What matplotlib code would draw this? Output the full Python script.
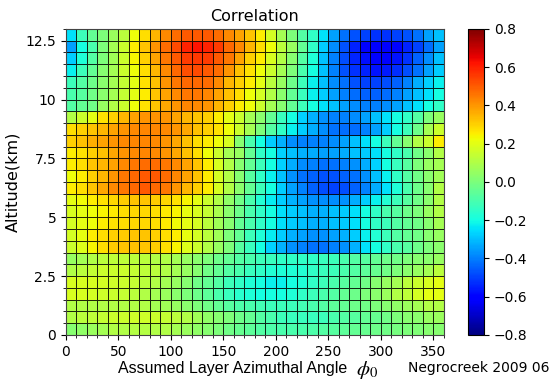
import matplotlib
matplotlib.use("Agg")
from matplotlib import pyplot as plt
import numpy as np

# cell edges
angle_edges = np.arange(0, 361, 10)        # 36 columns, degrees
alt_edges = np.arange(0, 13.01, 0.5)       # 26 rows, km

# correlation per cell, rows listed from top (12.5-13 km) down to (0-0.5 km)
corr_rows = [
    [-0.25, -0.12, -0.05, 0.00, 0.06, 0.12, 0.22, 0.28, 0.35, 0.42, 0.47, 0.50, 0.50, 0.50, 0.47, 0.42, 0.38, 0.32, 0.25, 0.17, 0.08, 0.00, -0.08, -0.15, -0.25, -0.35, -0.42, -0.47, -0.50, -0.52, -0.52, -0.50, -0.47, -0.42, -0.35, -0.30],
    [-0.35, -0.20, -0.10, 0.00, 0.08, 0.15, 0.25, 0.32, 0.40, 0.47, 0.53, 0.60, 0.62, 0.60, 0.55, 0.48, 0.42, 0.35, 0.28, 0.22, 0.12, 0.05, -0.05, -0.15, -0.28, -0.38, -0.47, -0.55, -0.60, -0.62, -0.62, -0.60, -0.55, -0.50, -0.43, -0.35],
    [-0.28, -0.18, -0.08, 0.00, 0.07, 0.15, 0.24, 0.30, 0.38, 0.45, 0.50, 0.55, 0.56, 0.55, 0.50, 0.45, 0.38, 0.30, 0.25, 0.18, 0.10, 0.02, -0.08, -0.18, -0.30, -0.40, -0.48, -0.54, -0.58, -0.60, -0.60, -0.57, -0.52, -0.45, -0.38, -0.30],
    [-0.22, -0.12, -0.05, 0.02, 0.08, 0.15, 0.22, 0.28, 0.35, 0.42, 0.48, 0.52, 0.53, 0.50, 0.47, 0.40, 0.33, 0.27, 0.22, 0.15, 0.08, 0.00, -0.10, -0.20, -0.30, -0.40, -0.47, -0.52, -0.55, -0.57, -0.56, -0.53, -0.48, -0.42, -0.35, -0.28],
    [-0.12, -0.08, -0.03, 0.03, 0.08, 0.14, 0.20, 0.27, 0.33, 0.40, 0.45, 0.48, 0.48, 0.47, 0.42, 0.35, 0.30, 0.25, 0.20, 0.12, 0.05, -0.03, -0.12, -0.22, -0.30, -0.38, -0.42, -0.47, -0.50, -0.50, -0.48, -0.45, -0.40, -0.33, -0.27, -0.22],
    [-0.10, -0.07, -0.02, 0.03, 0.08, 0.14, 0.20, 0.25, 0.32, 0.38, 0.42, 0.45, 0.45, 0.43, 0.38, 0.33, 0.28, 0.22, 0.17, 0.10, 0.03, -0.05, -0.13, -0.22, -0.28, -0.35, -0.40, -0.43, -0.45, -0.45, -0.43, -0.40, -0.35, -0.30, -0.25, -0.20],
    [-0.08, -0.05, -0.02, 0.05, 0.10, 0.15, 0.22, 0.27, 0.32, 0.37, 0.40, 0.43, 0.42, 0.40, 0.35, 0.30, 0.25, 0.22, 0.15, 0.08, 0.02, -0.05, -0.12, -0.20, -0.25, -0.30, -0.35, -0.38, -0.40, -0.40, -0.38, -0.35, -0.30, -0.25, -0.20, -0.15],
    [0.10, 0.15, 0.20, 0.27, 0.30, 0.35, 0.38, 0.40, 0.40, 0.40, 0.38, 0.35, 0.32, 0.30, 0.25, 0.20, 0.15, 0.08, 0.03, -0.05, -0.13, -0.20, -0.27, -0.32, -0.37, -0.40, -0.40, -0.38, -0.35, -0.30, -0.25, -0.20, -0.15, -0.08, 0.00, 0.05],
    [0.28, 0.30, 0.32, 0.35, 0.38, 0.40, 0.42, 0.43, 0.43, 0.42, 0.40, 0.37, 0.33, 0.30, 0.27, 0.22, 0.15, 0.08, 0.00, -0.08, -0.15, -0.22, -0.28, -0.33, -0.38, -0.42, -0.43, -0.43, -0.40, -0.35, -0.28, -0.20, -0.12, -0.03, 0.08, 0.15],
    [0.30, 0.33, 0.36, 0.38, 0.40, 0.42, 0.43, 0.43, 0.42, 0.40, 0.37, 0.33, 0.28, 0.25, 0.22, 0.18, 0.02, -0.10, -0.20, -0.28, -0.32, -0.38, -0.40, -0.40, -0.40, -0.38, -0.35, -0.30, -0.25, -0.20, -0.12, -0.05, 0.02, 0.10, 0.15, 0.25],
    [0.25, 0.27, 0.30, 0.33, 0.37, 0.40, 0.42, 0.43, 0.42, 0.40, 0.37, 0.33, 0.28, 0.22, 0.15, 0.08, 0.05, -0.05, -0.15, -0.20, -0.27, -0.30, -0.32, -0.33, -0.35, -0.35, -0.33, -0.30, -0.28, -0.25, -0.20, -0.15, -0.10, -0.02, 0.03, 0.10],
    [0.25, 0.28, 0.32, 0.35, 0.38, 0.42, 0.45, 0.47, 0.47, 0.45, 0.42, 0.38, 0.32, 0.25, 0.18, 0.10, 0.02, -0.05, -0.12, -0.20, -0.27, -0.33, -0.38, -0.40, -0.42, -0.42, -0.40, -0.37, -0.33, -0.27, -0.20, -0.13, -0.07, 0.00, 0.05, 0.08],
    [0.22, 0.25, 0.30, 0.35, 0.40, 0.45, 0.48, 0.50, 0.50, 0.47, 0.43, 0.38, 0.32, 0.25, 0.17, 0.10, 0.02, -0.07, -0.15, -0.22, -0.30, -0.37, -0.42, -0.45, -0.47, -0.47, -0.45, -0.42, -0.37, -0.30, -0.22, -0.15, -0.08, -0.02, 0.03, 0.07],
    [0.25, 0.28, 0.32, 0.37, 0.42, 0.45, 0.48, 0.50, 0.48, 0.45, 0.40, 0.35, 0.30, 0.25, 0.18, 0.10, 0.03, -0.05, -0.12, -0.20, -0.28, -0.35, -0.40, -0.45, -0.48, -0.50, -0.48, -0.45, -0.40, -0.33, -0.25, -0.18, -0.10, -0.03, 0.02, 0.10],
    [0.20, 0.23, 0.25, 0.27, 0.29, 0.31, 0.32, 0.32, 0.31, 0.29, 0.27, 0.24, 0.20, 0.15, 0.10, 0.04, -0.02, -0.10, -0.17, -0.23, -0.28, -0.32, -0.35, -0.37, -0.38, -0.38, -0.37, -0.33, -0.28, -0.22, -0.17, -0.12, -0.07, -0.02, 0.03, 0.10],
    [0.18, 0.20, 0.22, 0.24, 0.26, 0.28, 0.29, 0.29, 0.28, 0.26, 0.24, 0.21, 0.18, 0.14, 0.09, 0.03, -0.03, -0.10, -0.15, -0.20, -0.25, -0.28, -0.30, -0.32, -0.32, -0.30, -0.28, -0.25, -0.20, -0.15, -0.10, -0.07, -0.03, 0.00, 0.05, 0.10],
    [0.17, 0.20, 0.22, 0.25, 0.27, 0.28, 0.29, 0.29, 0.28, 0.26, 0.23, 0.20, 0.17, 0.12, 0.07, 0.02, -0.05, -0.10, -0.15, -0.20, -0.25, -0.28, -0.30, -0.32, -0.32, -0.30, -0.28, -0.25, -0.20, -0.15, -0.12, -0.08, -0.05, -0.02, 0.02, 0.08],
    [0.17, 0.21, 0.25, 0.28, 0.30, 0.31, 0.32, 0.32, 0.30, 0.28, 0.25, 0.21, 0.17, 0.12, 0.07, 0.00, -0.05, -0.12, -0.18, -0.23, -0.28, -0.32, -0.35, -0.37, -0.37, -0.35, -0.32, -0.28, -0.22, -0.17, -0.12, -0.08, -0.05, -0.02, 0.02, 0.05],
    [0.15, 0.19, 0.24, 0.28, 0.31, 0.32, 0.33, 0.32, 0.30, 0.28, 0.24, 0.19, 0.15, 0.10, 0.05, 0.00, -0.07, -0.13, -0.20, -0.27, -0.32, -0.37, -0.40, -0.42, -0.42, -0.40, -0.37, -0.32, -0.25, -0.20, -0.15, -0.10, -0.07, -0.03, 0.00, 0.03],
    [0.05, 0.08, 0.10, 0.12, 0.13, 0.13, 0.12, 0.12, 0.10, 0.10, 0.08, 0.05, 0.03, 0.00, -0.03, -0.05, -0.08, -0.10, -0.12, -0.13, -0.15, -0.15, -0.15, -0.15, -0.13, -0.12, -0.10, -0.08, -0.07, -0.05, -0.03, -0.02, 0.00, 0.02, 0.03, 0.05],
    [0.10, 0.12, 0.14, 0.15, 0.15, 0.15, 0.14, 0.13, 0.12, 0.10, 0.08, 0.05, 0.02, -0.02, -0.05, -0.08, -0.10, -0.13, -0.15, -0.17, -0.18, -0.18, -0.17, -0.15, -0.13, -0.12, -0.10, -0.08, -0.06, -0.04, -0.02, 0.00, 0.03, 0.05, 0.08, 0.12],
    [0.18, 0.18, 0.18, 0.17, 0.16, 0.15, 0.14, 0.12, 0.10, 0.08, 0.05, 0.02, -0.02, -0.05, -0.08, -0.12, -0.15, -0.18, -0.20, -0.22, -0.22, -0.20, -0.18, -0.15, -0.12, -0.10, -0.07, -0.05, -0.02, 0.02, 0.05, 0.08, 0.12, 0.15, 0.18, 0.20],
    [0.18, 0.18, 0.17, 0.16, 0.15, 0.14, 0.12, 0.10, 0.08, 0.06, 0.03, 0.00, -0.03, -0.06, -0.10, -0.13, -0.16, -0.18, -0.20, -0.20, -0.20, -0.18, -0.15, -0.12, -0.10, -0.08, -0.05, -0.03, 0.00, 0.03, 0.06, 0.10, 0.13, 0.17, 0.20, 0.20],
    [0.10, 0.10, 0.10, 0.10, 0.10, 0.10, 0.10, 0.10, 0.08, 0.07, 0.05, 0.03, 0.00, -0.02, -0.05, -0.07, -0.09, -0.10, -0.11, -0.12, -0.12, -0.12, -0.11, -0.10, -0.08, -0.06, -0.05, -0.03, -0.02, 0.00, 0.02, 0.04, 0.06, 0.08, 0.10, 0.10],
    [0.10, 0.12, 0.13, 0.14, 0.15, 0.15, 0.16, 0.16, 0.15, 0.14, 0.12, 0.10, 0.07, 0.04, 0.02, 0.00, -0.03, -0.05, -0.08, -0.10, -0.12, -0.13, -0.13, -0.13, -0.12, -0.10, -0.08, -0.07, -0.05, -0.04, -0.02, 0.00, 0.02, 0.03, 0.05, 0.06],
    [0.02, 0.04, 0.06, 0.08, 0.10, 0.10, 0.11, 0.11, 0.10, 0.10, 0.08, 0.06, 0.04, 0.02, 0.00, -0.02, -0.04, -0.06, -0.08, -0.09, -0.10, -0.10, -0.10, -0.09, -0.08, -0.07, -0.06, -0.05, -0.04, -0.03, -0.02, -0.01, 0.00, 0.01, 0.02, 0.02],
]

x_ticks = [0, 50, 100, 150, 200, 250, 300, 350]
y_ticks = [0, 2.5, 5, 7.5, 10, 12.5]
y_ticklabels = ['0', '2.5', '5', '7.5', '10', '12.5']
cbar_ticks = [-0.8, -0.6, -0.4, -0.2, 0.0, 0.2, 0.4, 0.6, 0.8]

corr = np.array(corr_rows[::-1])   # bottom row first for pcolormesh

fig = plt.figure(figsize=(5.5, 3.85), dpi=100)
ax = fig.add_axes([0.12, 0.13, 0.687, 0.795])
cax = fig.add_axes([0.851, 0.13, 0.029, 0.795])

mesh = ax.pcolormesh(angle_edges, alt_edges, corr, cmap='jet', vmin=-0.8, vmax=0.8,
                     edgecolors=(0, 0, 0, 0.85), linewidth=0.7)
ax.set_xlim(0, 360)
ax.set_ylim(0, 13)
ax.set_xticks(x_ticks)
ax.set_yticks(y_ticks)
ax.set_yticklabels(y_ticklabels)
ax.set_xticks(angle_edges, minor=True)
ax.set_yticks(alt_edges, minor=True)
ax.tick_params(labelsize=10)
ax.tick_params(which='minor', length=2.5)
for s in ax.spines.values():
    s.set_color('#444444')
ax.set_title('Correlation', fontsize=11.5)
ax.set_ylabel('Altitude(km)', fontsize=11.5)

# x label: sans text followed by a larger serif italic phi
fig.text(0.215, 0.03, 'Assumed Layer Azimuthal Angle', fontsize=11.5,
         family='Liberation Sans', ha='left')
fig.text(0.648, 0.026, r'$\phi_{\mathit{0}}$', fontsize=15, math_fontfamily='stix', ha='left')

cb = fig.colorbar(mesh, cax=cax, ticks=cbar_ticks)
cb.ax.tick_params(labelsize=10)
cb.ax.set_yticklabels([f'{t:.1f}'.replace('-', '\u2212') for t in cbar_ticks])

fig.text(0.742, 0.035, 'Negrocreek 2009 06', fontsize=10, ha='left')

fig.savefig('out.png', dpi=100)
